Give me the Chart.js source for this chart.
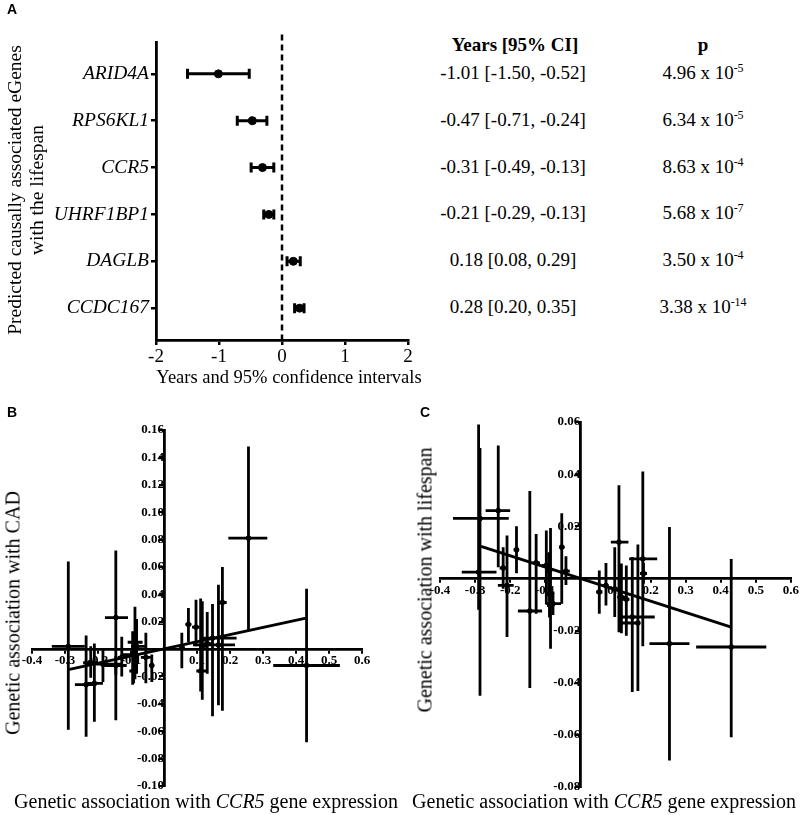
<!DOCTYPE html>
<html>
<head>
<meta charset="utf-8">
<script src="https://cdn.jsdelivr.net/npm/chart.js@4.4.1/dist/chart.umd.min.js"></script>
<style>
  body { margin: 0; background: #fff; }
  #wrap { position: relative; width: 800px; height: 815px; overflow: hidden; font-family: 'Liberation Serif', 'Times New Roman', serif; color: #000; }
  canvas { position: absolute; }
  .lbl { position: absolute; white-space: nowrap; transform: translate(-50%, -50%); }
  .panel { position: absolute; font-family: 'Liberation Sans', Arial, sans-serif; font-weight: bold; font-size: 14px; }
  .rot { transform: translate(-50%, -50%) rotate(-90deg); text-align: center; }
  sup { font-size: 12px; vertical-align: 7px; line-height: 0; }
</style>
</head>
<body>
<div id="wrap">
  <canvas id="chartA" width="440" height="400" style="left:0;top:0"></canvas>
  <canvas id="chartB" width="400" height="415" style="left:0;top:400px"></canvas>
  <canvas id="chartC" width="400" height="415" style="left:400px;top:400px"></canvas>

  <div class="panel" style="left:7px;top:1px">A</div>
  <div class="panel" style="left:7px;top:404px">B</div>
  <div class="panel" style="left:420px;top:404px">C</div>

  <div class="lbl rot" style="left:26px;top:190px;font-size:19.5px;line-height:22px">Predicted causally associated eGenes<br>with the lifespan</div>
  <div class="lbl" style="left:289px;top:377px;font-size:18.5px">Years and 95% confidence intervals</div>

  <div class="lbl" style="left:515px;top:45px;font-size:19px;font-weight:bold">Years [95% CI]</div>
  <div class="lbl" style="left:703px;top:45px;font-size:19px;font-weight:bold">p</div>
  <div id="table"></div>

  <div class="lbl rot" style="left:13px;top:613px;font-size:20px">Genetic association with CAD</div>
  <div class="lbl" style="left:206px;top:801px;font-size:20px">Genetic association with <i>CCR5</i> gene expression</div>
  <div class="lbl rot" style="left:425px;top:580px;font-size:20px">Genetic association with lifespan</div>
  <div class="lbl" style="left:604px;top:801px;font-size:20px">Genetic association with <i>CCR5</i> gene expression</div>
</div>
<script>
// Panel A: forest plot
const genes = ['ARID4A', 'RPS6KL1', 'CCR5', 'UHRF1BP1', 'DAGLB', 'CCDC167']
const years = [-1.01, -0.47, -0.31, -0.21, 0.18, 0.28]
const ciLow = [-1.50, -0.71, -0.49, -0.29, 0.08, 0.20]
const ciHigh = [-0.52, -0.24, -0.13, -0.13, 0.29, 0.35]
const ciText = ['-1.01 [-1.50, -0.52]', '-0.47 [-0.71, -0.24]', '-0.31 [-0.49, -0.13]',
                '-0.21 [-0.29, -0.13]', '0.18 [0.08, 0.29]', '0.28 [0.20, 0.35]']
const pBase = ['4.96', '6.34', '8.63', '5.68', '3.50', '3.38']
const pExp = ['-5', '-5', '-4', '-7', '-4', '-14']
const forestTicks = [-2, -1, 0, 1, 2]

// Panel B: CCR5 expression vs CAD
const bX   = [-0.29, -0.236, -0.211, -0.222, -0.185, -0.146, -0.146, -0.128, -0.095, -0.088, -0.083, -0.092, -0.055, -0.037, 0.054, 0.074, 0.097, 0.111, 0.116, 0.131, 0.147, 0.165, 0.177, 0.256, 0.432]
const bXLo = [-0.34, -0.27, -0.24, -0.245, -0.215, -0.179, -0.189, -0.14, -0.125, -0.11, -0.10, -0.105, -0.07, -0.045, 0.045, 0.065, 0.085, 0.098, 0.106, 0.12, 0.109, 0.088, 0.165, 0.195, 0.331]
const bXHi = [-0.24, -0.205, -0.185, -0.2, -0.125, -0.109, -0.113, -0.115, -0.075, -0.065, -0.052, -0.08, -0.04, -0.03, 0.063, 0.083, 0.108, 0.128, 0.13, 0.145, 0.22, 0.215, 0.19, 0.313, 0.533]
const bY   = [0.002, -0.026, -0.025, -0.010, -0.011, 0.023, -0.012, -0.006, -0.004, 0.005, 0.002, -0.016, -0.006, -0.012, 0.001, 0.018, 0.016, -0.016, 0.002, 0.004, 0.008, 0.003, 0.034, 0.081, -0.012]
const bYLo = [-0.059, -0.064, -0.053, -0.021, -0.024, -0.052, -0.019, -0.020, -0.026, -0.022, -0.018, -0.025, -0.025, -0.024, -0.014, 0.005, 0.002, -0.031, -0.037, -0.018, -0.049, -0.041, -0.045, 0.014, -0.068]
const bYHi = [0.064, 0.010, 0.004, 0.002, 0.0, 0.072, -0.005, 0.009, 0.013, 0.031, 0.022, -0.006, 0.012, -0.004, 0.012, 0.030, 0.036, 0.037, 0.035, 0.027, 0.033, 0.047, 0.060, 0.148, 0.044]
const bFitX = [-0.29, 0.43]
const bFitY = [-0.015, 0.0226]

// Panel C: CCR5 expression vs lifespan
const cX   = [-0.286, -0.29, -0.234, -0.22, -0.209, -0.182, -0.144, -0.126, -0.097, -0.085, -0.09, -0.088, -0.053, -0.078, -0.041, 0.054, 0.073, 0.098, 0.11, 0.117, 0.131, 0.148, 0.164, 0.178, 0.18, 0.254, 0.43]
const cXLo = [-0.363, -0.338, -0.27, -0.23, -0.235, -0.19, -0.178, -0.135, -0.11, -0.095, -0.1, -0.098, -0.06, -0.097, -0.05, 0.045, 0.065, 0.088, 0.087, 0.105, 0.12, 0.118, 0.114, 0.139, 0.17, 0.197, 0.33]
const cXHi = [-0.204, -0.239, -0.20, -0.21, -0.19, -0.175, -0.109, -0.115, -0.085, -0.075, -0.08, -0.078, -0.045, -0.055, -0.03, 0.063, 0.08, 0.108, 0.137, 0.13, 0.14, 0.212, 0.17, 0.219, 0.19, 0.311, 0.53]
const cY   = [0.023, 0.0024, 0.026, 0.004, -0.0027, 0.011, -0.0125, 0.006, 0.005, -0.0104, 0.003, -0.006, 0.012, -0.0097, 0.0028, -0.0052, -0.0027, -0.004, 0.0139, -0.0072, -0.008, -0.0148, -0.0171, 0.0075, 0.0019, -0.025, -0.0263]
const cYLo = [-0.045, -0.012, 0.0043, -0.004, -0.0225, 0.002, -0.042, -0.0135, -0.010, -0.027, -0.006, -0.015, -0.0097, -0.014, -0.0025, -0.0135, -0.0104, -0.0148, -0.0206, -0.021, -0.022, -0.0436, -0.0432, -0.026, -0.002, -0.0698, -0.0609]
const cYHi = [0.050, 0.059, 0.051, 0.012, 0.0165, 0.020, 0.0335, 0.017, 0.0184, 0.0193, 0.010, 0.004, 0.025, -0.005, 0.0085, 0.003, 0.0059, 0.012, 0.0357, 0.0057, 0.005, 0.0082, 0.013, 0.041, 0.006, 0.0197, 0.0075]
const cFitX = [-0.283, 0.43]
const cFitY = [0.0123, -0.0187]

const serif = 'Liberation Serif'

// draws whiskers for every point of datasets flagged with errorBars
const errorBars = {
  id: 'errorBars',
  beforeDatasetsDraw(chart) {
    const ctx = chart.ctx
    const xs = chart.scales.x
    const ys = chart.scales.y
    chart.data.datasets.forEach(ds => {
      if (!ds.errorBars) return
      ctx.save()
      ctx.strokeStyle = '#000'
      ctx.lineWidth = ds.barWidth
      ds.data.forEach(d => {
        const px = xs.getPixelForValue(d.x)
        const py = ys.getPixelForValue(d.y)
        ctx.beginPath()
        if (d.xMin != null) {
          const a = xs.getPixelForValue(d.xMin)
          const b = xs.getPixelForValue(d.xMax)
          ctx.moveTo(a, py); ctx.lineTo(b, py)
          if (ds.cap) {
            ctx.moveTo(a, py - ds.cap); ctx.lineTo(a, py + ds.cap)
            ctx.moveTo(b, py - ds.cap); ctx.lineTo(b, py + ds.cap)
          }
        }
        if (d.yMin != null) {
          ctx.moveTo(px, ys.getPixelForValue(d.yMin))
          ctx.lineTo(px, ys.getPixelForValue(d.yMax))
        }
        ctx.stroke()
      })
      ctx.restore()
    })
  }
}

function axisStyle(extra) {
  return Object.assign({
    grid: { drawOnChartArea: false, drawTicks: true, tickLength: 5, color: '#000', lineWidth: 2.5 },
    border: { color: '#000', width: 2.8 }
  }, extra)
}

// ---- Panel A ----
const chartA = new Chart(document.getElementById('chartA'), {
  type: 'scatter',
  data: {
    datasets: [{
      data: years.map((v, i) => ({ x: v, y: i, xMin: ciLow[i], xMax: ciHigh[i] })),
      errorBars: true, barWidth: 3, cap: 5,
      pointRadius: 4, backgroundColor: '#000', borderColor: '#000'
    }, {
      type: 'line',
      data: [{ x: 0, y: -0.84 }, { x: 0, y: 5.68 }],
      borderColor: '#000', borderWidth: 2.5, borderDash: [6, 4],
      pointRadius: 0, clip: false
    }]
  },
  options: {
    responsive: false, animation: false,
    layout: { padding: { left: 10, top: 42, right: 32, bottom: 20 } },
    plugins: { legend: { display: false }, tooltip: { enabled: false } },
    scales: {
      x: axisStyle({
        type: 'linear', min: -2, max: 2,
        afterBuildTicks: s => { s.ticks = forestTicks.map(v => ({ value: v })) },
        afterFit: s => { s.height = 40 },
        ticks: { color: '#000', padding: 1, font: { family: serif, size: 19 } }
      }),
      y: axisStyle({
        type: 'linear', min: -0.68, max: 5.68, reverse: true,
        afterBuildTicks: s => { s.ticks = genes.map((g, i) => ({ value: i })) },
        afterFit: s => { s.width = 146 },
        ticks: { color: '#000', padding: 2, font: { family: serif, size: 19.5, style: 'italic' },
                 callback: v => genes[v] }
      })
    }
  },
  plugins: [errorBars]
})

// table beside the forest plot, rows follow the y scale
var html = ''
for (var i = 0; i < genes.length; i++) {
  const top = chartA.scales.y.getPixelForValue(i) - 1
  html += "<div class='lbl' style='left:513px;top:" + top + "px;font-size:19px'>" + ciText[i] + "</div>"
  html += "<div class='lbl' style='left:703px;top:" + top + "px;font-size:19px'>" + pBase[i] + " x 10<sup>" + pExp[i] + "</sup></div>"
}
document.getElementById('table').innerHTML = html

// ---- Panels B and C ----
function crossChart(id, xs, xLo, xHi, ys, yLo, yHi, fitX, fitY, yMin, yMax, pad) {
  return new Chart(document.getElementById(id), {
    type: 'scatter',
    data: {
      datasets: [{
        data: xs.map((v, i) => ({ x: v, y: ys[i], xMin: xLo[i], xMax: xHi[i], yMin: yLo[i], yMax: yHi[i] })),
        errorBars: true, barWidth: 2.8, cap: 0,
        pointRadius: 2.4, backgroundColor: '#000', borderColor: '#000'
      }, {
        type: 'line',
        data: fitX.map((v, i) => ({ x: v, y: fitY[i] })),
        borderColor: '#000', borderWidth: 3, pointRadius: 0
      }]
    },
    options: {
      responsive: false, animation: false,
      layout: { padding: pad },
      plugins: { legend: { display: false }, tooltip: { enabled: false } },
      scales: {
        x: axisStyle({
          type: 'linear', min: -0.4, max: 0.6, position: { y: 0 },
          grid: { drawOnChartArea: false, drawTicks: true, tickLength: 3, color: '#000', lineWidth: 2 },
          ticks: { stepSize: 0.1, autoSkip: false, maxRotation: 0, color: '#000', padding: 1,
                   font: { family: serif, size: 13, weight: 'bold' },
                   callback: v => Math.abs(v) < 1e-9 ? '' : v.toFixed(1) }
        }),
        y: axisStyle({
          type: 'linear', min: yMin, max: yMax, position: { x: 0 },
          grid: { drawOnChartArea: false, drawTicks: true, tickLength: 4, color: '#000', lineWidth: 2 },
          ticks: { stepSize: 0.02, autoSkip: false, color: '#000', padding: 1,
                   font: { family: serif, size: 13, weight: 'bold' },
                   callback: v => Math.abs(v) < 1e-9 ? '' : v.toFixed(2) }
        })
      }
    },
    plugins: [errorBars]
  })
}

crossChart('chartB', bX, bXLo, bXHi, bY, bYLo, bYHi, bFitX, bFitY, -0.10, 0.16,
           { left: 32, top: 30, right: 38, bottom: 29 })
crossChart('chartC', cX, cXLo, cXHi, cY, cYLo, cYHi, cFitX, cFitY, -0.08, 0.06,
           { left: 40, top: 22, right: 7, bottom: 28 })
</script>
</body>
</html>
